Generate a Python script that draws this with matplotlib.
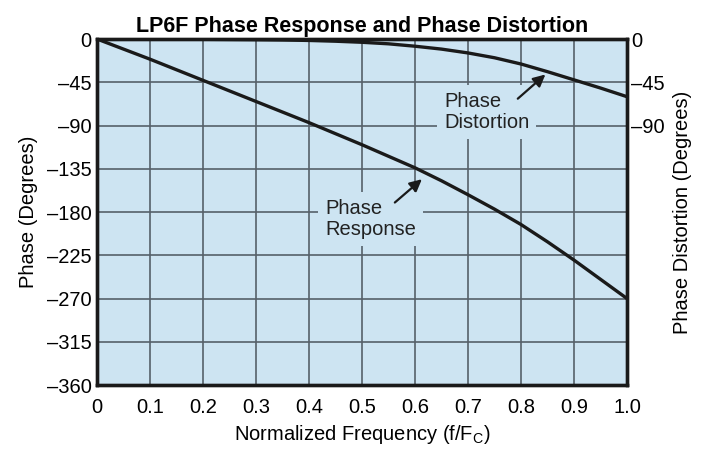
import matplotlib
matplotlib.use('Agg')
import matplotlib.pyplot as plt

plt.rcParams['font.family'] = ['Liberation Sans', 'DejaVu Sans']

freq = [0.0, 0.05, 0.1, 0.15, 0.2, 0.25, 0.3, 0.35, 0.4, 0.45, 0.5,
        0.55, 0.6, 0.65, 0.7, 0.75, 0.8, 0.85, 0.9, 0.95, 1.0]
phase_resp = [0, -10.5, -21, -32, -43, -54, -65, -76, -87, -98.5, -110,
              -122, -134, -147.5, -162, -177, -193, -211, -230, -250, -270]
phase_dist = [0, 0, -0.1, -0.2, -0.3, -0.5, -0.7, -1.0, -1.5, -2.3, -3.4,
              -5, -7.5, -10.5, -14.5, -19.5, -26, -34, -42.5, -51, -60]

x_ticks = [0, 0.1, 0.2, 0.3, 0.4, 0.5, 0.6, 0.7, 0.8, 0.9, 1.0]
x_labels = ['0', '0.1', '0.2', '0.3', '0.4', '0.5', '0.6', '0.7', '0.8', '0.9', '1.0']
y_ticks = [0, -45, -90, -135, -180, -225, -270, -315, -360]
y_labels = ['0', '–45', '–90', '–135', '–180', '–225', '–270', '–315', '–360']
y2_ticks = [0, -45, -90]
y2_labels = ['0', '–45', '–90']

bg = '#cde4f2'
grid_c = '#56606a'

fig = plt.figure(figsize=(7.04, 4.51), dpi=100)
ax = fig.add_axes([0.1378, 0.1463, 0.7528, 0.7672])
ax.set_facecolor(bg)

ax.plot(freq, phase_resp, color='#1a1a1a', lw=2.4, zorder=5)
ax.plot(freq, phase_dist, color='#1a1a1a', lw=2.4, zorder=5)

ax.set_xlim(0, 1.0)
ax.set_ylim(-360, 0)
ax.set_xticks(x_ticks)
ax.set_xticklabels(x_labels)
ax.set_yticks(y_ticks)
ax.set_yticklabels(y_labels)
ax.tick_params(length=0, labelsize=14.5)
ax.tick_params(axis='x', pad=9)
ax.tick_params(axis='y', pad=4)
ax.grid(True, color=grid_c, lw=1.2, zorder=1)
ax.set_axisbelow(True)
for s in ax.spines.values():
    s.set_linewidth(2.4)
    s.set_color('#1a1a1a')

ax2 = ax.twinx()
ax2.set_ylim(-360, 0)
ax2.set_yticks(y2_ticks)
ax2.set_yticklabels(y2_labels)
ax2.tick_params(length=0, labelsize=14.5, pad=3)
for s in ax2.spines.values():
    s.set_linewidth(2.4)
    s.set_color('#1a1a1a')

ax.set_title('LP6F Phase Response and Phase Distortion', fontsize=15.5,
             fontweight='bold', pad=5)
ax.set_xlabel('Normalized Frequency (f/F$_\\mathregular{C}$)', fontsize=14.5, labelpad=5)
ax.set_ylabel('Phase (Degrees)', fontsize=14.5, labelpad=6)
ax2.set_ylabel('Phase Distortion (Degrees)', fontsize=14.5, labelpad=6)

box = dict(facecolor=bg, edgecolor='none', pad=5)
ax.text(0.655, -76, 'Phase\nDistortion', fontsize=14.5, ha='left', va='center',
        linespacing=1.15, color='#222222', bbox=box, zorder=3)
ax.annotate('', xy=(0.85, -35), xytext=(0.79, -64),
            arrowprops=dict(arrowstyle='-|>', color='#1a1a1a', lw=1.6,
                            mutation_scale=18), zorder=6)

ax.text(0.43, -187, 'Phase\nResponse', fontsize=14.5, ha='left', va='center',
        linespacing=1.15, color='#222222', bbox=box, zorder=3)
ax.annotate('', xy=(0.617, -144), xytext=(0.558, -172),
            arrowprops=dict(arrowstyle='-|>', color='#1a1a1a', lw=1.6,
                            mutation_scale=18), zorder=6)

fig.savefig('out.png', dpi=100)
